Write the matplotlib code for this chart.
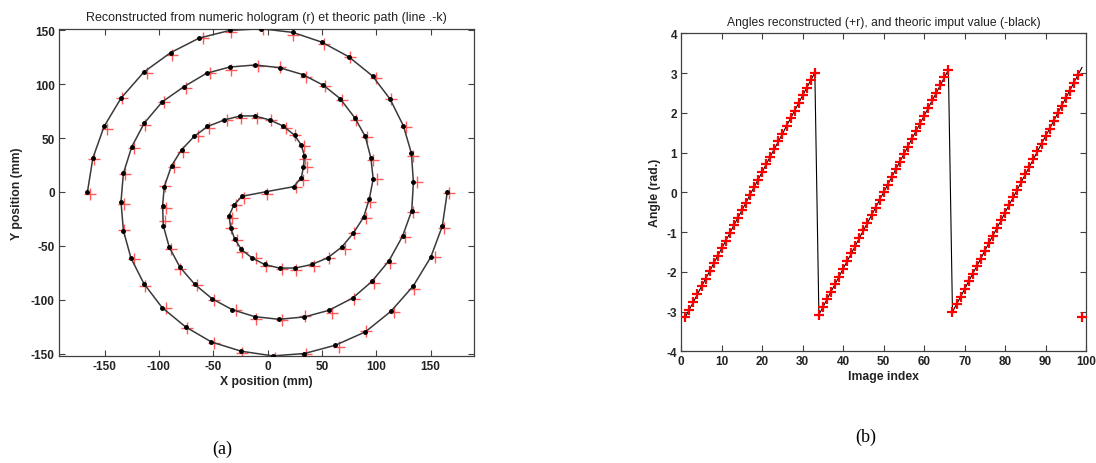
import matplotlib
matplotlib.use("Agg")
import matplotlib.pyplot as plt

# ---------------- data: spiral (a) ----------------
path_x = [-165.8, -160.8, -150.5, -134.9, -113.8, -89.3, -63.0, -34.9, -5.8, 23.2,
          49.8, 74.6, 96.6, 112.8, 125.0, 132.4, 134.2, 132.7, 124.2, 111.9,
          96.0, 78.3, 56.3, 33.9, 10.4, -11.9, -32.7, -51.1, -67.0, -80.7,
          -90.5, -96.0, -96.6, -95.1, -88.4, -79.2, -67.6, -55.3, -39.7, -25.0,
          -11.9, 1.8, 14.0, 24.8, 30.9, 33.9, 33.0, 30.9, 23.9, -1.2,
          -23.6, -30.9, -35.5, -33.9, -30.3, -24.1, -14.4, -2.8, 11.0, 25.4,
          40.7, 55.3, 68.2, 78.9, 88.4, 93.6, 97.2, 95.1, 89.9, 80.5,
          66.7, 51.4, 32.4, 11.0, -11.3, -34.9, -56.2, -76.8, -97.0, -113.5,
          -125.0, -132.7, -134.9, -132.7, -125.7, -113.8, -97.0, -75.5, -51.7, -24.1,
          4.9, 33.9, 62.4, 89.9, 113.5, 134.0, 150.2, 160.8, 165.4]
path_y = [0.0, 31.4, 60.7, 86.9, 111.2, 129.1, 142.6, 149.7, 151.3, 147.9,
          138.9, 125.4, 107.5, 86.0, 61.3, 35.8, 9.0, -17.3, -41.0, -63.5,
          -82.9, -98.3, -109.7, -115.8, -118.0, -115.5, -109.0, -98.9, -85.6, -69.6,
          -51.1, -31.1, -12.6, 4.9, 24.3, 39.1, 51.5, 60.7, 66.8, 70.5,
          70.5, 66.8, 61.3, 52.7, 43.7, 33.5, 22.8, 12.9, 4.9, 0.3,
          -4.0, -12.0, -21.9, -33.6, -43.4, -53.3, -61.0, -67.2, -70.5, -70.5,
          -67.2, -61.0, -51.1, -38.2, -23.4, -6.5, 12.0, 31.4, 51.5, 68.4,
          86.6, 98.9, 108.8, 115.2, 117.7, 115.8, 110.0, 97.7, 83.5, 63.8,
          41.9, 17.3, -9.0, -35.8, -61.3, -85.0, -107.2, -125.0, -139.0, -147.6,
          -151.9, -149.7, -142.0, -129.7, -110.6, -87.2, -60.4, -31.7, 0.0]

recon_x = [-163.8, -159.3, -147.5, -134.4, -111.3, -88.3, -59.5, -33.4, -3.8, 23.7,
           51.8, 76.1, 99.6, 113.3, 127.5, 133.4, 137.7, 134.2, 126.2, 112.4,
           98.0, 79.8, 59.3, 34.4, 12.9, -10.9, -29.2, -49.6, -65.0, -80.2,
           -88.5, -94.5, -93.6, -94.6, -85.9, -78.2, -64.1, -53.8, -37.7, -24.5,
           -9.9, 3.3, 17.0, 25.3, 33.4, 34.9, 36.5, 32.4, 25.9, -0.7,
           -21.6, -29.4, -32.5, -33.4, -27.8, -23.1, -10.9, -1.3, 13.0, 25.9,
           42.7, 56.8, 71.2, 79.4, 90.9, 94.6, 100.7, 96.6, 91.9, 81.0,
           68.7, 52.9, 35.4, 11.5, -8.8, -33.9, -52.7, -75.3, -95.0, -113.0,
           -123.0, -131.2, -131.9, -132.2, -123.2, -112.8, -93.5, -74.0, -49.7, -23.6,
           6.9, 35.4, 65.4, 90.4, 116.0, 135.0, 153.7, 162.3, 167.4]
recon_y = [-1.5, 30.9, 58.7, 87.4, 110.2, 126.6, 142.6, 148.2, 150.8, 145.9,
           137.4, 124.9, 105.5, 86.5, 60.3, 33.3, 9.0, -18.8, -41.5, -65.5,
           -84.4, -98.8, -111.7, -115.3, -119.0, -118.0, -109.0, -100.4, -86.1, -71.6,
           -52.6, -27.0, -14.6, 5.4, 23.3, 36.6, 51.5, 59.2, 66.3, 68.5,
           69.0, 66.3, 59.3, 53.2, 42.7, 31.0, 22.8, 11.4, 4.4, -1.7,
           -5.5, -12.5, -23.9, -33.1, -44.4, -55.8, -61.0, -68.7, -71.0, -72.5,
           -68.7, -61.5, -53.1, -37.7, -24.4, -9.0, 12.0, 29.9, 51.0, 66.4,
           85.1, 98.4, 106.8, 115.7, 116.7, 113.3, 110.0, 96.2, 83.0, 61.8,
           40.4, 16.8, -11.0, -35.3, -62.3, -87.5, -107.2, -126.5, -139.5, -149.6,
           -153.4, -150.2, -144.0, -129.2, -111.6, -89.7, -60.4, -33.2, -0.5]

xy_ticks = [-150, -100, -50, 0, 50, 100, 150]

# ---------------- data: angles (b) ----------------
image_index = list(range(1, 100))
angle_theoric = [-3.14, -2.95, -2.76, -2.56, -2.37, -2.18, -1.99, -1.79, -1.60, -1.41,
                 -1.22, -1.03, -0.83, -0.64, -0.45, -0.26, -0.06, 0.13, 0.32, 0.51,
                 0.71, 0.90, 1.09, 1.28, 1.47, 1.67, 1.86, 2.05, 2.24, 2.44,
                 2.63, 2.82, 3.01, -3.08, -2.89, -2.69, -2.50, -2.31, -2.12, -1.92,
                 -1.73, -1.54, -1.35, -1.15, -0.96, -0.77, -0.58, -0.39, -0.19, 0.00,
                 0.19, 0.38, 0.58, 0.77, 0.96, 1.15, 1.35, 1.54, 1.73, 1.92,
                 2.12, 2.31, 2.50, 2.69, 2.89, 3.08, -3.01, -2.82, -2.63, -2.44,
                 -2.24, -2.05, -1.86, -1.67, -1.47, -1.28, -1.09, -0.90, -0.71, -0.51,
                 -0.32, -0.13, 0.06, 0.26, 0.45, 0.64, 0.83, 1.03, 1.22, 1.41,
                 1.60, 1.79, 1.99, 2.18, 2.37, 2.56, 2.76, 2.95, 3.14]
angle_recon = angle_theoric[:-1] + [-3.14]
angle_xticks = [0, 10, 20, 30, 40, 50, 60, 70, 80, 90, 100]
angle_yticks = [-4, -3, -2, -1, 0, 1, 2, 3, 4]

# ---------------- figure ----------------
plt.rcParams['font.family'] = ['Liberation Sans', 'DejaVu Sans']
plt.rcParams['axes.unicode_minus'] = False
fig = plt.figure(figsize=(10.96, 4.64), dpi=100)

tick_kw = dict(direction='in', length=4, width=0.8, color='#404040',
               top=True, right=True, labelsize=8.5, labelcolor='#222222', pad=3)

# ----- (a) -----
ax1 = fig.add_axes([0.0538, 0.2306, 0.3787, 0.7058])
ax1.plot(recon_x, recon_y, linestyle='none', marker='+', color='#ff3030',
         alpha=0.8, markersize=8, markeredgewidth=1.0, zorder=2)
ax1.plot(path_x, path_y, '-', color='#3a3a3a', linewidth=1.1, marker='.',
         markersize=5, markerfacecolor='black', markeredgecolor='black', zorder=3)
ax1.set_xlim(-192, 190)
ax1.set_ylim(-152, 151.5)
ax1.set_xticks(xy_ticks)
ax1.set_yticks(xy_ticks)
ax1.tick_params(**tick_kw)
for lab in ax1.get_xticklabels() + ax1.get_yticklabels():
    lab.set_fontweight('bold')
ax1.set_title('Reconstructed from numeric hologram (r) et theoric path (line .-k)',
              fontsize=9, color='#222222', pad=6)
ax1.set_xlabel('X position (mm)', fontsize=8.8, fontweight='bold', color='#222222', labelpad=2)
ax1.set_ylabel('Y position (mm)', fontsize=8.8, fontweight='bold', color='#222222', labelpad=6)
for s in ax1.spines.values():
    s.set_color('#404040')
    s.set_linewidth(0.9)

# ----- (b) -----
ax2 = fig.add_axes([0.6216, 0.2408, 0.3693, 0.6853])
ax2.plot(image_index, angle_theoric, '-', color='black', linewidth=0.8, zorder=2)
ax2.plot(image_index, angle_recon, linestyle='none', marker='+', color='red',
         markersize=7, markeredgewidth=1.6, zorder=3)
ax2.set_xlim(0, 100)
ax2.set_ylim(-4, 4)
ax2.set_xticks(angle_xticks)
ax2.set_yticks(angle_yticks)
ax2.tick_params(**tick_kw)
for lab in ax2.get_xticklabels() + ax2.get_yticklabels():
    lab.set_fontweight('bold')
ax2.set_title('Angles reconstructed (+r), and theoric imput value (-black)',
              fontsize=8.7, color='#222222', pad=6)
ax2.set_xlabel('Image index', fontsize=8.8, fontweight='bold', color='#222222', labelpad=2)
ax2.set_ylabel('Angle (rad.)', fontsize=8.8, fontweight='bold', color='#222222', labelpad=4)
for s in ax2.spines.values():
    s.set_color('#404040')
    s.set_linewidth(0.9)

# captions
fig.text(222 / 1096, 1 - 449 / 464, '(a)', ha='center', va='center',
         fontsize=13, family='Liberation Serif')
fig.text(866 / 1096, 1 - 437 / 464, '(b)', ha='center', va='center',
         fontsize=13, family='Liberation Serif')

fig.savefig('out.png', dpi=100)
